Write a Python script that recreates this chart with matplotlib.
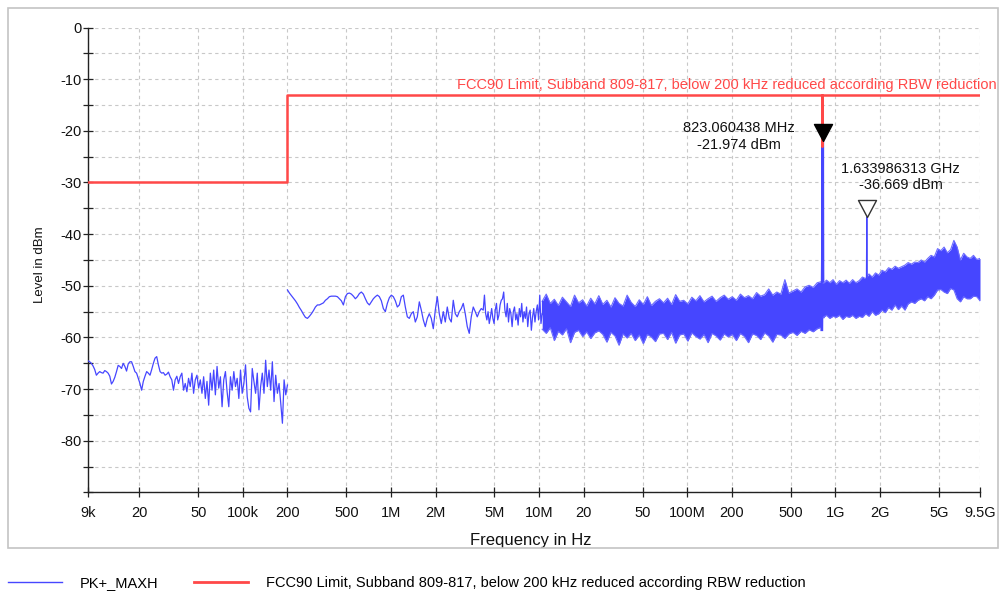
import numpy as np
import matplotlib
matplotlib.use("Agg")
import matplotlib.pyplot as plt
from matplotlib.patches import Rectangle
from matplotlib.lines import Line2D

plt.rcParams['font.family'] = ['Liberation Sans', 'DejaVu Sans']
plt.rcParams['axes.unicode_minus'] = False

TRACE = '#4646ff'
LIMIT = '#ff4848'
FS = 10.5

# ---------------- axis ticks ----------------
x_ticks_hz = [9e3, 20e3, 50e3, 100e3, 200e3, 500e3, 1e6, 2e6, 5e6, 10e6, 20e6,
              50e6, 100e6, 200e6, 500e6, 1e9, 2e9, 5e9, 9.5e9]
x_tick_labels = ['9k', '20', '50', '100k', '200', '500', '1M', '2M', '5M', '10M',
                 '20', '50', '100M', '200', '500', '1G', '2G', '5G', '9.5G']
y_ticks_dbm = list(range(-90, 1, 10))
y_tick_labels = [''] + [str(v) for v in range(-80, 1, 10)]

# ---------------- limit line ----------------
limit_freq_hz = [9e3, 200e3, 200e3, 809e6, 809e6, 817e6, 817e6, 9.5e9]
limit_level_dbm = [-30, -30, -13, -13, -23, -23, -13, -13]
limit_name = "FCC90 Limit, Subband 809-817, below 200 kHz reduced according RBW reduction"

# ---------------- PK+_MAXH trace ----------------
# 9 kHz .. 200 kHz sweep
lf_start_hz, lf_stop_hz = 9e3, 200e3
lf_level_dbm = [
    -64.5, -64.7, -65.0, -65.5, -66.2, -67.3, -66.9, -66.6, -66.8, -66.9,
    -66.4, -66.6, -66.9, -67.5, -69.0, -68.5, -67.7, -66.6, -65.4, -65.6,
    -66.0, -65.0, -65.6, -66.5, -65.1, -64.7, -64.7, -65.6, -66.6, -66.9,
    -67.9, -68.9, -70.2, -68.5, -67.5, -66.6, -66.9, -67.3, -66.2, -65.0,
    -64.0, -63.7, -65.3, -66.6, -66.9, -66.8, -67.3, -67.1, -66.7, -67.6,
    -68.2, -70.2, -68.2, -67.5, -68.9, -67.6,
    -66.9, -70.2, -68.9, -70.5, -67.9, -69.5, -66.9, -70.8, -68.2, -67.3,
    -69.8, -68.2, -70.8, -67.6, -71.8, -68.5, -73.1, -66.9, -70.2, -66.3,
    -71.1, -65.6, -69.8, -67.6, -73.4, -68.2, -66.6, -70.5, -73.4, -67.6,
    -70.2, -66.6, -69.5, -67.9, -71.8, -66.3, -70.8, -68.9, -65.3, -71.5,
    -73.7, -74.4, -66.0, -68.5, -70.8, -66.9, -74.0, -69.5, -66.9, -70.8,
    -64.4, -69.5, -66.3, -70.2, -64.7, -72.4, -67.3, -70.8, -68.9, -72.7,
    -76.6, -68.2, -71.1, -69.2,
]

# 200 kHz .. 4.2 MHz sweep
mf_start_hz, mf_stop_hz = 200e3, 4.2e6
mf_level_dbm = [
    -50.8, -51.4, -51.9, -52.4, -52.9, -53.5, -54.2, -54.8, -55.5, -56.1,
    -56.3, -55.9, -55.4, -54.8, -54.1, -53.7, -53.7, -53.5, -53.3, -52.8,
    -52.5, -52.1, -52.0, -52.0, -52.0, -52.1, -52.5, -52.9, -53.7, -52.1,
    -51.5, -51.4, -51.6, -52.0, -52.5, -52.1, -51.5, -51.2, -51.6, -52.5,
    -53.3, -53.7, -53.1, -52.5, -52.1, -51.8, -52.1, -52.9, -54.4, -55.0,
    -53.4, -52.3, -51.8, -52.1, -52.9, -54.1, -53.7, -52.1, -51.8, -54.1,
    -56.0, -56.3, -55.4, -55.0, -57.0, -56.0, -53.1, -54.7, -56.6, -57.9,
    -56.3, -55.4, -56.3, -58.3, -54.7, -52.1, -55.4, -57.3, -55.0, -57.0,
    -54.1, -56.3, -57.0, -52.8, -55.4, -56.0, -55.0, -54.4, -53.4, -55.4,
    -57.9, -59.2, -56.0, -54.1, -55.0, -56.0, -55.0, -54.4, -54.7,
]

# 4.2 MHz .. 10.5 MHz sweep
hf_start_hz, hf_stop_hz = 4.2e6, 10.5e6
hf_level_dbm = [
    -52.8, -51.8, -55.4, -56.6, -55.0, -57.3, -56.0, -54.4, -56.3, -57.3,
    -54.7, -53.4, -56.6, -55.7, -53.7, -52.8, -52.5, -51.2, -54.7, -56.0,
    -53.4, -57.0, -54.4, -55.4, -57.9, -55.0, -54.1, -56.6, -55.4, -57.6,
    -54.4, -56.0, -53.4, -57.0, -55.0, -56.3, -54.1, -57.9, -55.4, -54.7,
    -58.6, -56.0, -54.4, -57.0, -55.0, -53.7, -56.6, -51.8, -57.3, -55.4,
]

# 10.5 MHz .. 805 MHz: dense noise floor, upper / lower envelope
b1_start_hz, b1_stop_hz = 10.5e6, 805e6
b1_hi_dbm = [
    -53.0, -51.6, -53.4, -52.6, -53.8, -52.2, -53.1, -54.0, -51.8, -53.3,
    -52.7, -53.9, -52.4, -53.5, -51.9,
    -53.6, -52.8, -54.1, -52.3, -53.4, -53.9, -51.8, -53.2, -54.0, -52.7,
    -53.6, -52.1, -53.8, -53.0, -52.5,
    -53.3, -52.4, -53.6, -51.7, -53.0, -52.8, -53.5, -52.2, -52.9, -51.9,
    -53.1, -52.5, -52.0, -53.0, -52.3, -51.8, -52.6,
    -52.1, -52.8, -51.6, -52.3, -51.9, -52.5, -51.3, -52.0, -51.7, -50.6,
    -51.8, -51.2, -51.6, -48.8, -51.4,
    -51.0, -50.6, -51.2, -50.2, -49.9, -50.3, -49.4, -49.2,
]
b1_lo_dbm = [
    -58.4, -59.2, -58.1, -60.6, -58.8, -59.5, -58.3, -61.0, -59.0, -58.6,
    -59.8, -58.9, -60.2, -59.1, -58.7,
    -59.4, -60.9, -59.0, -59.7, -61.5, -59.3, -60.1, -59.2, -60.6, -59.5,
    -61.2, -59.4, -59.9, -60.8, -59.3,
    -59.2, -60.4, -59.0, -61.1, -59.5, -59.3, -60.7, -59.1, -59.8, -60.3,
    -59.4, -61.0, -59.2, -59.7, -60.5, -59.3, -59.9,
    -59.4, -60.6, -59.2, -59.8, -61.0, -59.3, -59.6, -60.4, -59.1, -59.7,
    -60.9, -59.4, -59.5, -60.2, -59.3,
    -59.0, -59.6, -58.8, -59.2, -58.5, -58.9, -58.3, -58.0,
]

# carrier around 823 MHz
spike1_freq_hz = [812e6, 819e6, 823.060438e6, 826e6, 830e6]
spike1_level_dbm = [-58.5, -45.0, -21.974, -47.0, -56.0]

# 830 MHz .. 9.5 GHz: noise floor envelope
b2_start_hz, b2_stop_hz = 830e6, 9.5e9
b2_hi_dbm = [
    -49.5, -48.9, -49.4, -48.8, -49.7, -49.0, -49.4, -48.9, -49.5, -48.8,
    -49.4, -49.0, -48.3, -48.6, -47.7, -48.3, -47.5, -47.9, -47.0, -47.3,
    -46.5, -46.8, -46.2, -46.6, -46.3, -46.0, -45.5, -45.8, -45.4, -45.5,
    -45.0, -45.4, -44.7, -44.1, -44.4, -42.8, -43.2, -42.5, -43.6, -43.0,
    -41.2, -42.5, -45.0, -43.7, -44.4, -44.7, -44.1, -44.9, -44.7,
]
b2_lo_dbm = [
    -56.1, -55.7, -56.3, -55.9, -56.1, -55.7, -56.5, -55.9, -56.1, -55.7,
    -56.3, -55.9, -56.1, -55.4, -55.9, -55.0, -55.7, -55.4, -54.7, -55.2,
    -54.2, -54.7, -53.7, -54.6, -53.9, -54.7, -53.5, -53.1, -53.4, -52.8,
    -52.5, -52.9, -52.1, -52.5, -51.8, -50.8, -50.7, -51.2, -51.5, -50.5,
    -50.8, -52.5, -53.1, -52.1, -52.5, -52.5, -52.0, -52.1, -52.9,
]

# harmonic around 1.634 GHz
spike2_freq_hz = [1.625e9, 1.633986313e9, 1.643e9]
spike2_level_dbm = [-49.5, -36.669, -49.5]

# markers
marker_freq_hz = [823.060438e6, 1.633986313e9]
marker_level_dbm = [-21.974, -36.669]
marker_filled = [True, False]


def freq_text(f):
    if f >= 1e9:
        return f"{f / 1e9:.9f} GHz"
    return f"{f / 1e6:.6f} MHz"


# ---------------- figure ----------------
fig = plt.figure(figsize=(10, 5.94), dpi=100)
fig.patches.append(Rectangle((0.008, 0.0774), 0.99, 0.909, transform=fig.transFigure,
                             fill=False, edgecolor='#c4c4c4', linewidth=1.2))
ax = fig.add_axes([0.088, 0.1709, 0.892, 0.7828])
ax.set_xscale('log')

# trace
lf_f = np.geomspace(lf_start_hz, lf_stop_hz, len(lf_level_dbm))
ax.plot(lf_f, lf_level_dbm, color=TRACE, lw=0.9, zorder=3)

mf_f = np.geomspace(mf_start_hz, mf_stop_hz, len(mf_level_dbm))
hf_f = np.geomspace(hf_start_hz, hf_stop_hz, len(hf_level_dbm))
ax.plot(np.concatenate([mf_f, hf_f[1:]]), mf_level_dbm + hf_level_dbm[1:],
        color=TRACE, lw=0.9, zorder=3)

b1_f = np.geomspace(b1_start_hz, b1_stop_hz, len(b1_hi_dbm))
ax.fill_between(b1_f, b1_lo_dbm, b1_hi_dbm, color=TRACE, lw=0, zorder=3)
ax.plot(b1_f, b1_hi_dbm, color='#6a6aff', lw=0.8, zorder=3)
ax.plot(b1_f, b1_lo_dbm, color='#6a6aff', lw=0.8, zorder=3)
ax.plot([hf_stop_hz, b1_start_hz], [hf_level_dbm[-1], b1_hi_dbm[0]], color=TRACE, lw=0.9, zorder=3)

ax.plot(spike1_freq_hz, spike1_level_dbm, color=TRACE, lw=2.0, zorder=3)

b2_f = np.geomspace(b2_start_hz, b2_stop_hz, len(b2_hi_dbm))
ax.fill_between(b2_f, b2_lo_dbm, b2_hi_dbm, color=TRACE, lw=0, zorder=3)
ax.plot(b2_f, b2_hi_dbm, color='#6a6aff', lw=0.8, zorder=3)
ax.plot(b2_f, b2_lo_dbm, color='#6a6aff', lw=0.8, zorder=3)

ax.plot(spike2_freq_hz, spike2_level_dbm, color=TRACE, lw=0.9, zorder=3)

# limit line
ax.plot(limit_freq_hz, limit_level_dbm, color=LIMIT, lw=1.8, zorder=4)
ax.annotate(limit_name, xy=(limit_freq_hz[-1], limit_level_dbm[-1]),
            xytext=(12.2, 7.0), textcoords='offset points',
            ha='right', va='center', color=LIMIT, fontsize=FS, zorder=5,
            annotation_clip=False)

# markers with tip on the measured point
tri = [(0, 0), (-0.53, 1), (0.53, 1), (0, 0)]
label_offsets = [(-60, 3.2), (24.5, 28.8)]
for f, lv, filled, off in zip(marker_freq_hz, marker_level_dbm, marker_filled, label_offsets):
    ax.plot([f], [lv], linestyle='none', marker=tri, markersize=24.5,
            markerfacecolor='black' if filled else 'white',
            markeredgecolor='black' if filled else '#333333',
            markeredgewidth=1.0, zorder=6, clip_on=False)
    ax.annotate(f"{freq_text(f)}\n{lv:.3f} dBm", xy=(f, lv), xytext=off,
                textcoords='offset points', ha='center', va='center',
                multialignment='center', fontsize=FS, color='#111111', zorder=6)

# axes styling
ax.set_xlim(9e3, 9.5e9)
ax.set_ylim(-90, 0)
ax.set_xticks(x_ticks_hz)
ax.set_xticklabels(x_tick_labels)
ax.xaxis.set_minor_locator(matplotlib.ticker.NullLocator())
ax.set_yticks(y_ticks_dbm)
ax.set_yticklabels(y_tick_labels)
ax.set_yticks(list(range(-85, 0, 10)), minor=True)
ax.tick_params(axis='both', which='both', direction='inout', length=7, width=0.9,
               color='#222222', labelsize=FS, labelcolor='#111111')
ax.tick_params(axis='x', pad=6)
ax.tick_params(axis='y', pad=1)
ax.grid(True, which='both', axis='y', color='#c8c8c8', lw=0.8, ls=(0, (3, 3)))
ax.grid(True, which='major', axis='x', color='#c8c8c8', lw=0.8, ls=(0, (3, 3)))
ax.set_axisbelow(True)
for s in ('top', 'right'):
    ax.spines[s].set_visible(False)
for s in ('left', 'bottom'):
    ax.spines[s].set_color('#222222')
    ax.spines[s].set_linewidth(1.0)

ax.set_xlabel('Frequency in Hz', fontsize=12, color='#111111')
ax.xaxis.set_label_coords(0.4966, -0.087)
ax.set_ylabel('Level in dBm', fontsize=9.5, color='#111111')
ax.yaxis.set_label_coords(-0.047, 0.489)

# legend
handles = [Line2D([], [], color=TRACE, lw=1.0), Line2D([], [], color=LIMIT, lw=2.0)]
fig.legend(handles, ['PK+_MAXH', limit_name], loc='center left',
           bbox_to_anchor=(0.008, 11 / 594), ncol=2, frameon=False, fontsize=FS,
           handlelength=3.7, handletextpad=1.25, columnspacing=2.4,
           borderpad=0, borderaxespad=0)

fig.savefig('out.png', dpi=100)
